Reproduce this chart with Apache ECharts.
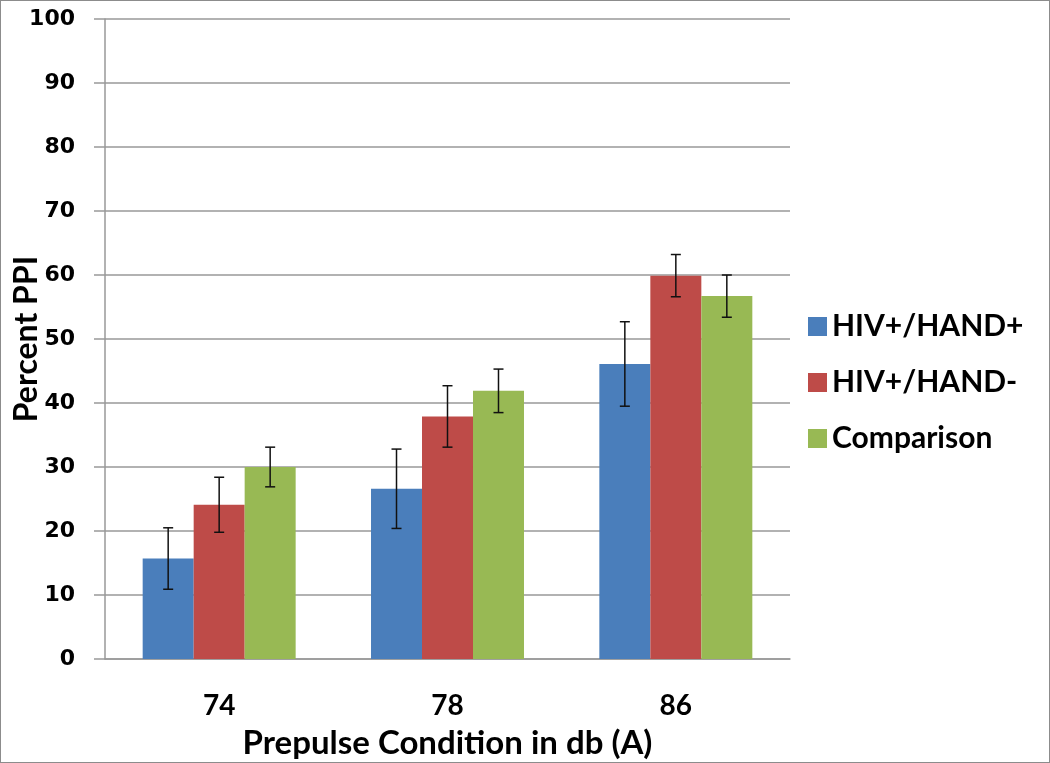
<!DOCTYPE html>
<html>
<head>
<meta charset="utf-8">
<script src="https://cdn.jsdelivr.net/npm/echarts@6/dist/echarts.min.js"></script>
<style>
  html, body { margin: 0; padding: 0; background: #fff; }
  #chart { width: 1048px; height: 761px; border: 1px solid #8c8c8c; }
</style>
</head>
<body>
<div id="chart"></div>
<script>
const categories = ['74', '78', '86'];
const seriesNames = ['HIV+/HAND+', 'HIV+/HAND-', 'Comparison'];
const hivHandPos = [15.7, 26.6, 46.1];
const hivHandNeg = [24.1, 37.9, 59.9];
const comparison = [30.0, 41.9, 56.7];
const errHandPos = [4.8, 6.2, 6.6];
const errHandNeg = [4.3, 4.8, 3.3];
const errComparison = [3.1, 3.4, 3.3];
const yTicks = [0, 10, 20, 30, 40, 50, 60, 70, 80, 90, 100];

const colors = ['#4A7EBB', '#BE4B48', '#98B954'];
const values = [hivHandPos, hivHandNeg, comparison];
const errors = [errHandPos, errHandNeg, errComparison];
const gapRatio = 0.33;

const chart = echarts.init(document.getElementById('chart'));

function errorSeries(idx) {
  return {
    type: 'custom',
    name: seriesNames[idx] + ' error',
    z: 10,
    silent: true,
    data: categories.map((c, i) => [i, values[idx][i], errors[idx][i]]),
    renderItem: function (params, api) {
      const ci = api.value(0), v = api.value(1), e = api.value(2);
      const band = api.size([1, 0])[0];
      const barW = band * (1 - gapRatio) / 3;
      const center = api.coord([ci, v]);
      const x = center[0] + (idx - 1) * barW;
      const top = api.coord([ci, v + e])[1];
      const bot = api.coord([ci, v - e])[1];
      const cap = 5;
      const style = { stroke: '#111', lineWidth: 1.5 };
      return {
        type: 'group',
        children: [
          { type: 'line', shape: { x1: x, y1: top, x2: x, y2: bot }, style: style },
          { type: 'line', shape: { x1: x - cap, y1: top, x2: x + cap, y2: top }, style: style },
          { type: 'line', shape: { x1: x - cap, y1: bot, x2: x + cap, y2: bot }, style: style }
        ]
      };
    }
  };
}

const barSeries = seriesNames.map((n, idx) => ({
  type: 'bar',
  name: n,
  data: values[idx],
  barGap: '0%',
  barCategoryGap: (gapRatio * 100) + '%',
  itemStyle: { color: colors[idx] }
}));

chart.setOption({
  animation: false,
  textStyle: { fontFamily: 'Lato, "Open Sans", sans-serif' },
  grid: { left: 104, right: 259, top: 18, bottom: 103, containLabel: false, outerBoundsMode: 'none' },
  legend: {
    orient: 'vertical',
    left: 802,
    top: 305,
    itemWidth: 19,
    itemHeight: 19,
    itemGap: 25,
    icon: 'rect',
    data: seriesNames,
    textStyle: { fontSize: 30, fontWeight: 'bold', color: '#000', fontFamily: 'Lato, sans-serif', lineHeight: 31 }
  },
  xAxis: {
    type: 'category',
    data: categories,
    name: 'Prepulse Condition in db (A)',
    nameLocation: 'middle',
    nameGap: 68,
    nameMoveOverlap: false,
    nameTextStyle: { fontSize: 33, fontWeight: 'bold', color: '#000', fontFamily: 'Lato, sans-serif' },
    axisLine: { lineStyle: { color: '#999', width: 1.5 } },
    axisTick: { show: false },
    axisLabel: { fontSize: 28, fontWeight: 'bold', color: '#000', margin: 33, fontFamily: 'Lato, sans-serif' }
  },
  yAxis: {
    type: 'value',
    min: 0,
    max: 100,
    interval: 10,
    name: 'Percent PPI',
    nameLocation: 'middle',
    nameGap: 62,
    nameMoveOverlap: false,
    nameTextStyle: { fontSize: 32, fontWeight: 'bold', color: '#000', fontFamily: 'Lato, sans-serif' },
    axisLine: { show: true, lineStyle: { color: '#999', width: 1.5 } },
    axisTick: { show: true, length: 11, lineStyle: { color: '#999', width: 1.5 } },
    axisLabel: {
      fontSize: 22, fontWeight: 'bold', color: '#000', margin: 30,
      fontFamily: '"DejaVu Sans", sans-serif',
      formatter: v => yTicks.includes(v) ? String(v) : ''
    },
    splitLine: { lineStyle: { color: '#999', width: 1.5 } }
  },
  series: barSeries.concat([0, 1, 2].map(errorSeries))
});
</script>
</body>
</html>
